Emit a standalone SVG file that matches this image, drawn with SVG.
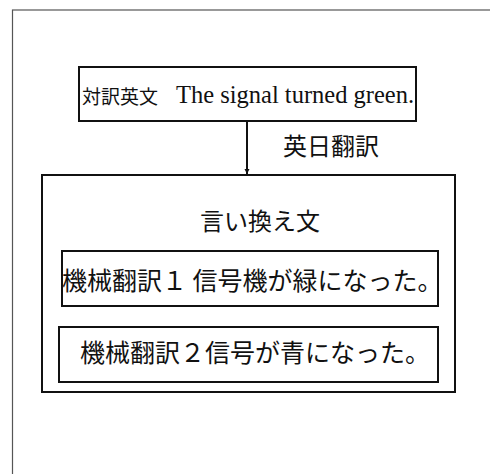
<svg xmlns="http://www.w3.org/2000/svg" width="490" height="474" viewBox="0 0 490 474">
<defs>
<style>
.box{fill:#fff;stroke:#111;stroke-width:2}
.frame{fill:none;stroke:#555;stroke-width:1.2}
.jp{font-family:"Noto Sans CJK JP","Noto Sans",sans-serif;fill:#111}
.en{font-family:"Liberation Serif",serif;fill:#111}
.edge{stroke:#111;stroke-width:2;fill:none}
</style>
<marker id="arrow" viewBox="0 0 10 10" refX="10" refY="5" markerWidth="5" markerHeight="6" markerUnits="userSpaceOnUse" orient="auto">
<path d="M0,0 L10,5 L0,10 Z" fill="#111"/>
</marker>
</defs>
<rect width="490" height="474" fill="#fff"/>
<rect class="frame" x="12.5" y="10" width="500" height="480"/>
<g id="connectors">
<line class="edge" x1="247" y1="121" x2="247" y2="174" marker-end="url(#arrow)"/>
<text class="jp" x="283" y="155" font-size="24">英日翻訳</text>
</g>
<g id="source">
<rect class="box" x="79" y="67" width="337" height="54"/>
<text class="jp" x="82" y="104" font-size="19">対訳英文</text>
<text class="en" x="176" y="103" font-size="24.5">The signal turned green.</text>
</g>
<g id="paraphrase">
<rect class="box" x="42" y="175" width="413" height="217"/>
<text class="jp" x="200" y="230" font-size="24">言い換え文</text>
</g>
<g id="mt1">
<rect class="box" x="62" y="251" width="376" height="55"/>
<text class="jp" x="62" y="290" font-size="25">機械翻訳１ 信号機が緑になった。</text>
</g>
<g id="mt2">
<rect class="box" x="59" y="327" width="379" height="55"/>
<text class="jp" x="80" y="362" font-size="25">機械翻訳２信号が青になった。</text>
</g>
</svg>
